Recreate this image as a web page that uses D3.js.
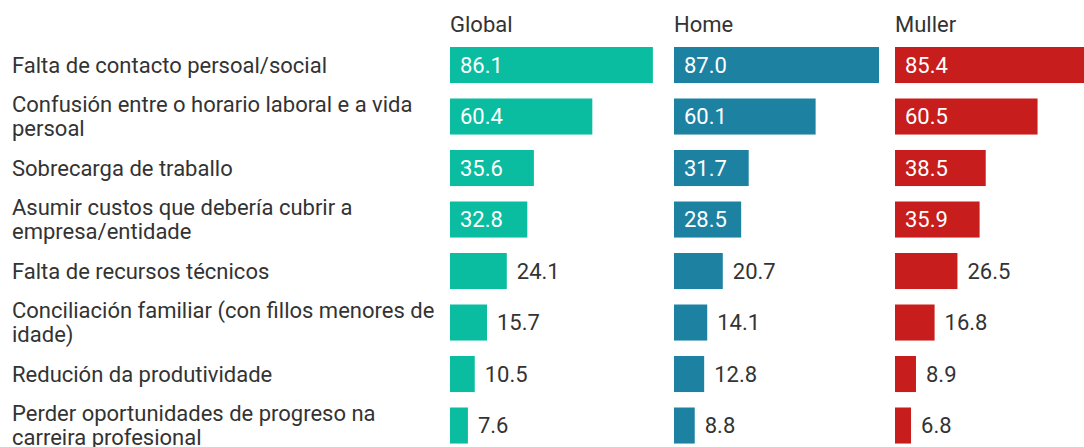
<!DOCTYPE html>
<html>
<head>
<meta charset="utf-8">
<script src="https://cdn.jsdelivr.net/npm/d3@7"></script>
<style>
  body { margin: 0; background: #fff; }
  svg { display: block; font-family: Roboto, sans-serif; }
</style>
</head>
<body>
<script>
let w = 1084;
let h = 447;

let categories = [
  'Falta de contacto persoal/social',
  'Confusión entre o horario laboral e a vida persoal',
  'Sobrecarga de traballo',
  'Asumir custos que debería cubrir a empresa/entidade',
  'Falta de recursos técnicos',
  'Conciliación familiar (con fillos menores de idade)',
  'Redución da produtividade',
  'Perder oportunidades de progreso na carreira profesional'
];

let seriesNames = ['Global', 'Home', 'Muller'];
let globalValues = [86.1, 60.4, 35.6, 32.8, 24.1, 15.7, 10.5, 7.6];
let homeValues = [87.0, 60.1, 31.7, 28.5, 20.7, 14.1, 12.8, 8.8];
let mullerValues = [85.4, 60.5, 38.5, 35.9, 26.5, 16.8, 8.9, 6.8];

let colors = ['#0abda0', '#1d81a2', '#c71e1d'];
let series = [globalValues, homeValues, mullerValues];

let fontSize = '22px';

let svg = d3.select('body')
  .append('svg')
  .attr('width', w)
  .attr('height', h);

let yScale = d3.scaleBand()
  .domain(categories)
  .range([31.55, 31.55 + 51.5 * 8.3])
  .padding(0.3);

let panelScale = d3.scaleOrdinal()
  .domain(seriesNames)
  .range([450, 674, 895]);

let xScale = d3.scaleLinear()
  .domain([0, 87])
  .range([0, 205]);

// row labels, wrapped
let labelWidth = 428;
let labels = svg.append('g')
  .selectAll('text')
  .data(categories)
  .enter()
  .append('text')
  .attr('x', 12)
  .attr('font-size', fontSize)
  .attr('fill', '#333');

labels.each(function (d) {
  let t = d3.select(this);
  let words = d.split(' ');
  let lines = [];
  let line = [];
  let probe = t.append('tspan');
  words.forEach((word) => {
    line.push(word);
    probe.text(line.join(' '));
    if (probe.node().getComputedTextLength() > labelWidth && line.length > 1) {
      line.pop();
      lines.push(line.join(' '));
      line = [word];
    }
  });
  lines.push(line.join(' '));
  probe.remove();
  let cy = yScale(d) + yScale.bandwidth() / 2;
  let lh = 24;
  lines.forEach((l, i) => {
    t.append('tspan')
      .attr('x', 12)
      .attr('y', cy + 7.5 + (i - (lines.length - 1) / 2) * lh)
      .text(l);
  });
});

seriesNames.forEach((name, si) => {
  let g = svg.append('g')
    .attr('transform', 'translate(' + panelScale(name) + ', 0)');

  g.append('text')
    .attr('x', 0)
    .attr('y', 32)
    .attr('font-size', fontSize)
    .attr('fill', '#333')
    .text(name);

  let rows = categories.map((c, i) => ({ cat: c, value: series[si][i] }));

  g.selectAll('rect')
    .data(rows)
    .enter()
    .append('rect')
    .attr('x', 0)
    .attr('y', (d) => yScale(d.cat))
    .attr('width', (d) => xScale(d.value))
    .attr('height', yScale.bandwidth())
    .attr('fill', colors[si]);

  g.selectAll('text.val')
    .data(rows)
    .enter()
    .append('text')
    .attr('class', 'val')
    .attr('x', (d) => d.value >= 28 ? 10 : xScale(d.value) + 10)
    .attr('y', (d) => yScale(d.cat) + yScale.bandwidth() / 2 + 7.5)
    .attr('font-size', fontSize)
    .attr('fill', (d) => d.value >= 28 ? '#fff' : '#333')
    .text((d) => d.value.toFixed(1));
});
</script>
</body>
</html>
